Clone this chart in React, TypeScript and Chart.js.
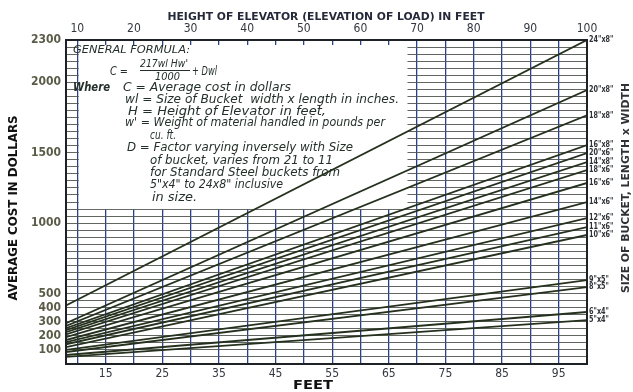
import React, { useEffect, useRef } from 'react';
import { Chart, registerables } from 'chart.js';

Chart.register(...registerables);

// ---------- data ----------
const bucketSizes = ['24"x8"', '20"x8"', '18"x8"', '16"x8"', '20"x6"', '14"x8"', '18"x6"', '16"x6"', '14"x6"', '12"x6"', '11"x6"', '10"x6"', '9"x5"', '8"x5"', '6"x4"', '5"x4"'];
const heightStart = 8;
const heightEnd = 100;
const costAtStart = [415, 290, 270, 254, 240, 226, 210, 190, 170, 155, 140, 120, 100, 85, 64, 50];
const costAtEnd = [2300, 1945, 1765, 1554, 1498, 1434, 1377, 1285, 1150, 1036, 972, 916, 596, 546, 369, 312];

const costTickLabels = [100, 200, 300, 400, 500, 1000, 1500, 2000, 2300];
const topTickLabels = [10, 20, 30, 40, 50, 60, 70, 80, 90, 100];
const bottomTickLabels = [15, 25, 35, 45, 55, 65, 75, 85, 95];
const heightGrid = [10, 15, 20, 25, 30, 35, 40, 45, 50, 55, 60, 65, 70, 75, 80, 85, 90, 95, 100];
const costGridStep = 50;
const costMax = 2300;

const topTitle = 'HEIGHT OF ELEVATOR (ELEVATION OF LOAD) IN FEET';
const leftTitle = 'AVERAGE COST IN DOLLARS';
const bottomTitle = 'FEET';
const rightTitle = 'SIZE OF BUCKET, LENGTH x WIDTH';

// region of the explanatory panel (in data units)
const panelHeightTo = 68.3;
const panelCostFrom = 1100;

const FONT = "'DejaVu Sans Condensed', 'Liberation Sans Narrow', 'DejaVu Sans', sans-serif";
const INK = '#24302a';

function fitText(ctx: CanvasRenderingContext2D, text: string, x: number, y: number, width: number, font: string, color: string, align: CanvasTextAlign = 'center', rotate = 0) {
  ctx.save();
  ctx.font = font;
  const w = ctx.measureText(text).width || 1;
  ctx.translate(x, y);
  if (rotate) ctx.rotate(rotate);
  ctx.scale(width / w, 1);
  ctx.textAlign = align;
  ctx.textBaseline = 'middle';
  ctx.fillStyle = color;
  ctx.fillText(text, 0, 0);
  ctx.restore();
}

const decorPlugin = {
  id: 'decor',
  beforeDraw(chart: any) {
    const { ctx, width, height } = chart;
    ctx.save();
    ctx.fillStyle = '#ffffff';
    ctx.fillRect(0, 0, width, height);
    ctx.restore();
  },
  beforeDatasetsDraw(chart: any) {
    const { ctx } = chart;
    const x = chart.scales.x;
    const y = chart.scales.y;
    const l = x.getPixelForValue(heightGrid[0]) + 1.5;
    const r = x.getPixelForValue(panelHeightTo);
    const t = y.getPixelForValue(costMax) + 5;
    const b = y.getPixelForValue(panelCostFrom);
    ctx.save();
    ctx.fillStyle = '#ffffff';
    ctx.fillRect(l, t, r - l, b - t);
    ctx.restore();

    const it = (s: number, bold = false) => `italic ${bold ? 'bold ' : '500 '}${s}px ${FONT}`;
    fitText(ctx, 'GENERAL FORMULA:', 73, 50, 117, it(11), INK, 'left');
    fitText(ctx, 'C =', 110, 72, 18, it(12), INK, 'left');
    fitText(ctx, "217wl Hw'", 140, 64, 48, it(11), INK, 'left');
    ctx.save();
    ctx.strokeStyle = INK;
    ctx.lineWidth = 1;
    ctx.beginPath();
    ctx.moveTo(140, 70.5);
    ctx.lineTo(190, 70.5);
    ctx.stroke();
    ctx.restore();
    fitText(ctx, '1000', 155, 77, 25, it(11), INK, 'left');
    fitText(ctx, '+ Dwl', 192, 72, 25, it(12), INK, 'left');
    fitText(ctx, 'Where', 73, 88, 37, it(12, true), INK, 'left');
    fitText(ctx, 'C = Average cost in dollars', 123, 88, 168, it(12), INK, 'left');
    fitText(ctx, 'wl = Size of Bucket  width x length in inches.', 125, 100, 274, it(12), INK, 'left');
    fitText(ctx, 'H = Height of Elevator in feet,', 128, 112, 198, it(12), INK, 'left');
    fitText(ctx, "w' = Weight of material handled in pounds per", 125, 123, 260, it(12), INK, 'left');
    fitText(ctx, 'cu. ft.', 150, 136, 26, it(12), INK, 'left');
    fitText(ctx, 'D = Factor varying inversely with Size', 127, 148, 226, it(12), INK, 'left');
    fitText(ctx, 'of bucket, varies from 21 to 11', 150, 161, 183, it(12), INK, 'left');
    fitText(ctx, 'for Standard Steel buckets from', 150, 173, 190, it(12), INK, 'left');
    fitText(ctx, '5"x4" to 24x8" inclusive', 150, 185, 133, it(12), INK, 'left');
    fitText(ctx, 'in size.', 152, 198, 45, it(12), INK, 'left');
  },
  afterDraw(chart: any) {
    const { ctx, chartArea } = chart;
    const y = chart.scales.y;
    // frame
    ctx.save();
    ctx.strokeStyle = '#1e2226';
    ctx.lineWidth = 2;
    ctx.strokeRect(chartArea.left, chartArea.top, chartArea.right - chartArea.left, chartArea.bottom - chartArea.top);
    ctx.restore();

    fitText(ctx, topTitle, 326, 17, 317, `bold 11px ${FONT}`, '#252a3a');
    fitText(ctx, leftTitle, 14, 208, 185, `bold 12px ${FONT}`, '#111111', 'center', -Math.PI / 2);
    fitText(ctx, bottomTitle, 313, 386, 40, `bold 13px ${FONT}`, '#111111');
    fitText(ctx, rightTitle, 626, 188, 210, `bold 11px ${FONT}`, '#2e3236', 'center', -Math.PI / 2);

    ctx.save();
    ctx.font = `bold 9px ${FONT}`;
    bucketSizes.forEach((s, i) => {
      const w = ctx.measureText(s).width;
      fitText(ctx, s, chartArea.right + 2, y.getPixelForValue(costAtEnd[i]), w * 0.8, `bold 9px ${FONT}`, '#2e3236', 'left');
    });
    ctx.restore();
  },
};

export default function App() {
  const canvasRef = useRef<HTMLCanvasElement | null>(null);

  useEffect(() => {
    const canvas = canvasRef.current;
    if (!canvas) return;
    const datasets = bucketSizes.map((s, i) => ({
      label: s,
      data: [
        { x: heightStart, y: costAtStart[i] },
        { x: heightEnd, y: costAtEnd[i] },
      ],
      borderColor: '#25311e',
      borderWidth: 1.8,
      pointRadius: 0,
      fill: false,
      tension: 0,
    }));

    const chart = new Chart(canvas, {
      type: 'line',
      data: { datasets },
      plugins: [decorPlugin],
      options: {
        animation: false,
        responsive: false,
        devicePixelRatio: 1,
        layout: { padding: { left: 0, right: 46, top: 0, bottom: 0 } },
        plugins: { legend: { display: false }, tooltip: { enabled: false }, title: { display: false } },
        scales: {
          x: {
            type: 'linear',
            position: 'bottom',
            min: heightStart,
            max: heightEnd,
            afterBuildTicks: (scale: any) => {
              scale.ticks = heightGrid.map((v) => ({ value: v }));
            },
            afterFit: (scale: any) => {
              scale.height = 28;
            },
            grid: { color: '#28408f', lineWidth: 1.3, drawTicks: false },
            border: { display: true, color: '#1e2226', width: 2 },
            ticks: {
              autoSkip: false,
              maxRotation: 0,
              padding: 3,
              color: '#333740',
              font: { family: FONT, size: 12 },
              callback: (v: any) => (bottomTickLabels.includes(Number(v)) ? String(v) : ''),
            },
          },
          x2: {
            type: 'linear',
            position: 'top',
            min: heightStart,
            max: heightEnd,
            afterBuildTicks: (scale: any) => {
              scale.ticks = topTickLabels.map((v) => ({ value: v }));
            },
            afterFit: (scale: any) => {
              scale.height = 40;
            },
            grid: { display: false, drawTicks: false },
            border: { display: true, color: '#1e2226', width: 2 },
            ticks: {
              autoSkip: false,
              maxRotation: 0,
              padding: 4,
              color: '#333740',
              font: { family: FONT, size: 12 },
            },
          },
          y: {
            type: 'linear',
            position: 'left',
            min: 0,
            max: costMax,
            afterBuildTicks: (scale: any) => {
              const t: any[] = [];
              for (let v = 0; v <= costMax; v += costGridStep) t.push({ value: v });
              scale.ticks = t;
            },
            afterFit: (scale: any) => {
              scale.width = 66;
            },
            grid: { color: '#50554f', lineWidth: 0.9, drawTicks: false },
            border: { display: true, color: '#1e2226', width: 2 },
            ticks: {
              autoSkip: false,
              padding: 5,
              color: '#5a5b47',
              font: { family: FONT, size: 12, weight: 'bold' },
              callback: (v: any) => (costTickLabels.includes(Number(v)) ? String(v) : ''),
            },
          },
        },
      } as any,
    });
    return () => chart.destroy();
  }, []);

  return (
    <div style={{ position: 'absolute', left: 0, top: 0, width: 633, height: 392 }}>
      <canvas ref={canvasRef} width={633} height={392} style={{ display: 'block' }} />
    </div>
  );
}
